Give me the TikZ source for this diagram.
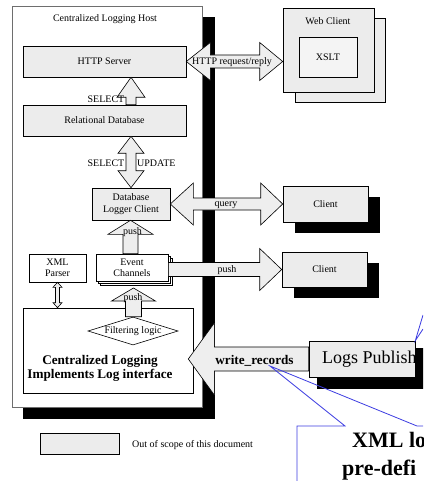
\documentclass[tikz,border=0pt]{standalone}
\usepackage{fontspec}
\setmainfont{Liberation Serif}
\usetikzlibrary{calc,shapes.geometric}
\definecolor{boxfill}{RGB}{236,236,236}
\definecolor{arrfill}{RGB}{238,238,238}
\definecolor{callblue}{RGB}{60,60,225}
\definecolor{hostgray}{RGB}{110,110,110}
\tikzset{
  base/.style={font=\fontsize{10}{11.5}\selectfont, inner sep=0pt, align=center},
  graybox/.style={base, draw=black, line width=0.6pt, fill=boxfill},
  whitebox/.style={base, draw=black, line width=0.6pt, fill=white},
  blockarrow/.style={draw=black, line width=0.6pt, fill=arrfill, line join=miter},
  boldtext/.style={font=\fontsize{13.2}{14}\selectfont\bfseries, inner sep=0pt},
  calltext/.style={font=\fontsize{22}{24}\selectfont\bfseries, inner sep=0pt},
  callline/.style={draw=callblue, line width=0.8pt},
}
% single block arrow: [opts] A B shaft-half head-half head-length (head at B)
\newcommand\sarrow[6][]{%
  \path (#2) coordinate (ba-a) (#3) coordinate (ba-b);
  \path ($(ba-b)!#6!(ba-a)$) coordinate (ba-h);
  \draw[blockarrow,#1] ($(ba-a)!#4!90:(ba-b)$) -- ($(ba-h)!#4!90:(ba-b)$)
    -- ($(ba-h)!#5!90:(ba-b)$) -- (ba-b) -- ($(ba-h)!#5!-90:(ba-b)$)
    -- ($(ba-h)!#4!-90:(ba-b)$) -- ($(ba-a)!#4!-90:(ba-b)$) -- cycle;
}
% double block arrow: [opts] A B shaft-half head-half headlen-at-A headlen-at-B
\newcommand\darrow[7][]{%
  \path (#2) coordinate (ba-a) (#3) coordinate (ba-b);
  \path ($(ba-a)!#6!(ba-b)$) coordinate (ba-ha);
  \path ($(ba-b)!#7!(ba-a)$) coordinate (ba-hb);
  \draw[blockarrow,#1] (ba-a) -- ($(ba-ha)!#5!90:(ba-b)$) -- ($(ba-ha)!#4!90:(ba-b)$)
    -- ($(ba-hb)!#4!90:(ba-b)$) -- ($(ba-hb)!#5!90:(ba-b)$) -- (ba-b)
    -- ($(ba-hb)!#5!-90:(ba-b)$) -- ($(ba-hb)!#4!-90:(ba-b)$)
    -- ($(ba-ha)!#4!-90:(ba-b)$) -- ($(ba-ha)!#5!-90:(ba-b)$) -- cycle;
}
\begin{document}
\begin{tikzpicture}[x=1pt,y=-1pt]
\useasboundingbox (0,0) rectangle (423,481);
\clip (0,0) rectangle (423,481);

% host with shadow
\fill[black] (23,17) rectangle (215,419);
\node[draw=hostgray, fill=white, line width=0.8pt, minimum width=190pt, minimum height=401pt, inner sep=0pt] (host) at (107,206.5) {};
\node[base] (hosttitle) at (105,19) {Centralized Logging Host};

% inner boxes
\node[graybox, minimum width=163pt, minimum height=31pt] (http) at (104.5,61.5) {HTTP Server};
\node[graybox, minimum width=163pt, minimum height=31pt] (rel) at (104.5,120.5) {Relational Database};
\node[graybox, minimum width=78pt, minimum height=32pt] (dblc) at (131,204) {Database\\Logger Client};
\node[whitebox, minimum width=57pt, minimum height=28pt] (xml) at (57.5,268) {XML\\Parser};
\draw[line width=0.6pt, fill=white] (100,258) rectangle (172,285.5);
\draw[line width=0.6pt, fill=white] (98,256) rectangle (170,283.5);
\node[whitebox, minimum width=72pt, minimum height=27.5pt] (evch) at (132,267.75) {Event\\Channels};
\coordinate (evbot) at (133,288);
\node[whitebox, minimum width=170pt, minimum height=85pt] (cl) at (108,350.5) {};
\node[boldtext] (cltext1) at (100,361.5) {Centralized Logging};
\node[boldtext] (cltext2) at (100,375.5) {Implements Log interface};
\node[diamond, shape aspect=3.3, draw=black, line width=0.6pt, fill=white, base, minimum width=90pt, minimum height=28pt] (filt) at (133,331) {Filtering logic};

% web client
\draw[line width=0.6pt, fill=boxfill] (295,18) rectangle (385,102);
\node[graybox, minimum width=91pt, minimum height=84pt] (web) at (328.5,50) {};
\node[base] (webtitle) at (328,21) {Web Client};
\node[draw=black, line width=0.6pt, fill=boxfill!60, base, minimum width=58pt, minimum height=40pt] (xslt) at (328,57) {XSLT};

% clients with shadows
\fill[black] (295,197) rectangle (380,233);
\node[graybox, minimum width=85pt, minimum height=36pt] (client1) at (325.5,204) {Client};
\fill[black] (294,263) rectangle (379,298);
\node[graybox, minimum width=85pt, minimum height=35pt] (client2) at (324.5,269.5) {Client};

% logs publisher
\fill[black] (317,348) rectangle (430,389);
\node[graybox, minimum width=106pt, minimum height=36pt] (lp) at (362,359) {};
\node[base, font=\fontsize{18}{20}\selectfont, anchor=west] (lptext) at (322,359.5) {Logs Publish};

% block arrows
\darrow{http.east}{http.east -| web.west}{6.5pt}{19pt}{24pt}{23pt}
\node[base] (httplbl) at (232,62) {HTTP request/reply};

\sarrow{rel.north -| dblc.north}{http.south -| dblc.north}{5pt}{14pt}{20pt}
\node[base, anchor=east] (sel1) at (124.5,99) {SELECT};

\darrow{rel.south -| dblc.north}{dblc.north}{5pt}{13pt}{17pt}{17pt}
\node[base, anchor=east] (sel2) at (124.5,163) {SELECT};
\node[base, anchor=west] (upd) at (137,163) {UPDATE};

\darrow{dblc.east}{client1.west}{6pt}{21pt}{23pt}{22pt}
\node[base] (querylbl) at (226,205.5) {query};

\sarrow{evch.north -| 130.5,0}{dblc.south -| 130.5,0}{7.5pt}{22.5pt}{14pt}
\node[base] (push1) at (132.5,232) {push};

\sarrow{evch.east |- client2.west}{client2.west}{7pt}{21pt}{22pt}
\node[base] (push2) at (227,270.5) {push};

\sarrow{filt.north -| 133.5,0}{evbot -| 133.5,0}{8pt}{22pt}{13pt}
\node[base] (push3) at (133,298) {push};

\darrow{xml.south}{xml.south |- cl.north}{2pt}{4.5pt}{5pt}{5pt}

\sarrow{lp.west}{$(cl.east |- lp.west)+(-5,0)$}{12pt}{36pt}{26pt}
\node[boldtext] (wrlbl) at (254.5,361) {write\_records};

% callouts
\coordinate (callpt) at (270,366);
\draw[callline, line join=miter] (430,426) -- (417,426) -- (callpt) -- (345,426) -- (297,426) -- (297,490);
\node[calltext, anchor=base west] (call1) at (352,447) {XML lo};
\node[calltext, anchor=base west] (call2) at (342,475) {pre-defi};
\draw[callline] (423,315) -- (lp.north east) -- (423,329);

% legend
\node[graybox, minimum width=79pt, minimum height=21pt] (legend) at (79.5,443.5) {};
\node[base, anchor=west] (legtext) at (132,445) {Out of scope of this document};
\end{tikzpicture}
\end{document}
